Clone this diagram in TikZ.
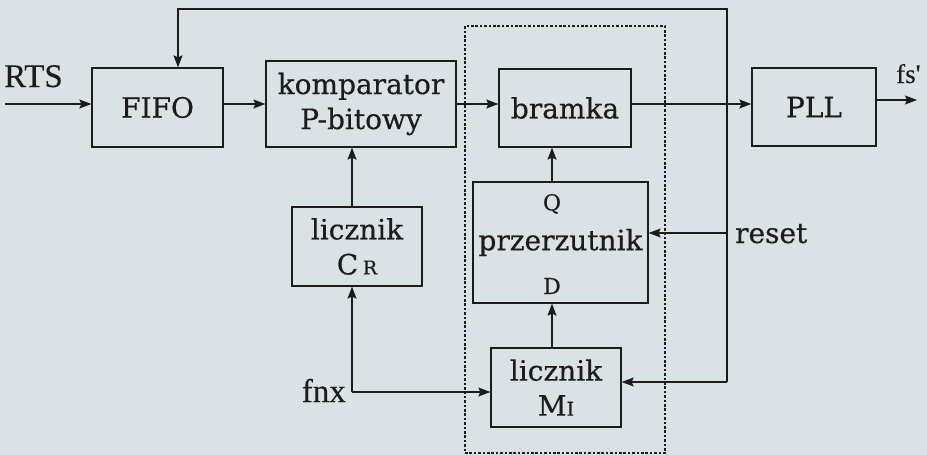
\documentclass[tikz,border=0pt]{standalone}
\usepackage{fontspec}
\setmainfont{DejaVu Serif}[FakeBold=0.5]
\newfontfamily\timesfont{Liberation Serif}[FakeBold=0.3]
\usetikzlibrary{arrows.meta}
\definecolor{paper}{RGB}{219,226,229}
\definecolor{ink}{RGB}{28,28,28}
\begin{document}
\begin{tikzpicture}[x=1pt,y=-1pt,
  block/.style={draw=ink, line width=1.3pt, rectangle, inner sep=0pt, align=center,
    text=ink, font=\fontsize{28}{35}\selectfont},
  wire/.style={draw=ink, line width=1.2pt},
  arr/.style={wire, -{Stealth[length=12pt,width=9pt,inset=2pt]}},
  tlabel/.style={text=ink, inner sep=0pt, font=\timesfont\fontsize{33}{33}\selectfont},
  slabel/.style={text=ink, inner sep=0pt, font=\fontsize{28}{28}\selectfont},
  pinlabel/.style={text=ink, inner sep=0pt, font=\fontsize{22}{22}\selectfont},
  group/.style={draw=ink, line width=1.7pt, dash pattern=on 2.6pt off 1.8pt,
    rectangle, inner sep=0pt}]
\fill[paper] (0,0) rectangle (927,455);
\useasboundingbox (0,0) rectangle (927,455);

% dashed frame around the gate, flip-flop and counter M
\node[group, minimum width=200pt, minimum height=427pt] (grp) at (565,239.5) {};

% blocks
\node[block, minimum width=131pt, minimum height=79pt] (fifo) at (157.5,107.5) {FIFO};
\node[block, minimum width=190pt, minimum height=86pt] (komp) at (361,104) {komparator\\P-bitowy};
\node[block, minimum width=132pt, minimum height=78pt] (bram) at (565,108) {bramka};
\node[block, minimum width=124pt, minimum height=78pt] (pll) at (814,107) {PLL};
\node[block, minimum width=130pt, minimum height=79pt] (cr) at (357,246.5)
  {licznik\\C\,{\fontsize{19}{19}\selectfont R}};
\node[block, minimum width=175pt, minimum height=121pt] (prz) at (560.5,242.5) {przerzutnik};
\node[pinlabel] (qpin) at (552,204) {Q};
\node[pinlabel] (dpin) at (552,286) {D};
\node[block, minimum width=130pt, minimum height=79pt] (m1) at (556,387.5)
  {licznik\\M{\fontsize{19}{19}\selectfont I}};

% helper points
\coordinate (row) at (0,104);
\coordinate (rtsin) at (5,104);
\coordinate (jx) at (727,104);
\coordinate (fbtop) at (727,9);
\coordinate (fbin) at (178,9);
\coordinate (rsx) at (727,233);
\coordinate (mbot) at (727,382);
\coordinate (fsout) at (917,100);
\coordinate (fnxj) at (352,392);
\coordinate (qcol) at (552,0);

% labels
\node[tlabel, anchor=base west] (rts) at (4,87) {RTS};
\node[tlabel, anchor=base east] (fnx) at (346,402) {fnx};
\node[tlabel, anchor=base west, font=\timesfont\fontsize{27}{27}\selectfont] (fs) at (896,83) {fs'};
\node[slabel, anchor=base west] (reset) at (735,243) {reset};

% main signal row
\draw[arr] (rtsin) -- (fifo.west |- row);
\draw[arr] (fifo.east |- row) -- (komp.west |- row);
\draw[arr] (komp.east |- row) -- (bram.west |- row);
\draw[arr] (bram.east |- row) -- (pll.west |- row);
\draw[arr] (pll.east |- fsout) -- (fsout);

% feedback from the gate output
\draw[arr] (jx) -- (fbtop) -- (fbin) -- (fbin |- fifo.north);
\draw[wire] (jx) -- (mbot);
\draw[arr] (mbot) -- (mbot -| m1.east);
\draw[arr] (rsx) -- (rsx -| prz.east);

% fnx distribution
\draw[arr] (fnxj) -- (fnxj |- cr.south);
\draw[arr] (fnxj |- cr.north) -- (fnxj |- komp.south);
\draw[arr] (fnxj) -- (fnxj -| m1.west);

% counter M -> flip-flop -> gate
\draw[arr] (qcol |- m1.north) -- (qcol |- prz.south);
\draw[arr] (qcol |- prz.north) -- (qcol |- bram.south);
\end{tikzpicture}
\end{document}
